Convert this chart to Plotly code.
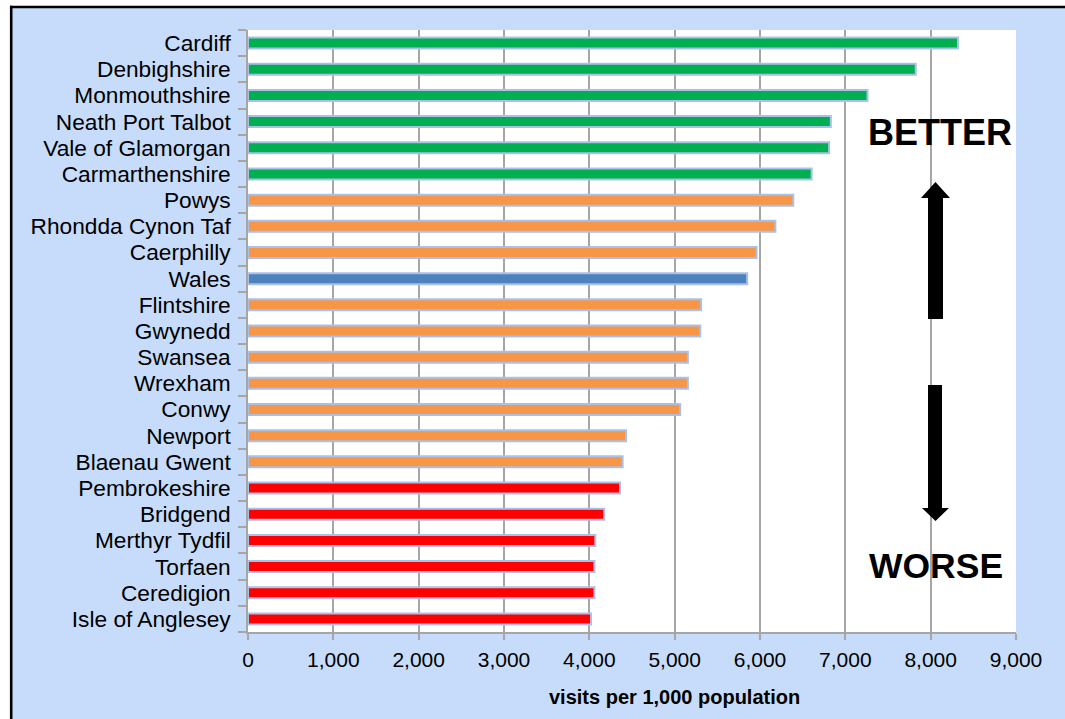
import plotly.graph_objects as go

# ---- data ----
categories = [
    "Cardiff", "Denbighshire", "Monmouthshire", "Neath Port Talbot",
    "Vale of Glamorgan", "Carmarthenshire", "Powys", "Rhondda Cynon Taf",
    "Caerphilly", "Wales", "Flintshire", "Gwynedd", "Swansea", "Wrexham",
    "Conwy", "Newport", "Blaenau Gwent", "Pembrokeshire", "Bridgend",
    "Merthyr Tydfil", "Torfaen", "Ceredigion", "Isle of Anglesey",
]
visits = [
    8320, 7825, 7260, 6830, 6810, 6605, 6390, 6180, 5960, 5850,
    5310, 5300, 5155, 5155, 5065, 4430, 4390, 4360, 4175, 4070,
    4060, 4060, 4020,
]
groups = [
    "better", "better", "better", "better", "better", "better",
    "similar", "similar", "similar", "wales", "similar", "similar",
    "similar", "similar", "similar", "similar", "similar",
    "worse", "worse", "worse", "worse", "worse", "worse",
]
x_ticks = [0, 1000, 2000, 3000, 4000, 5000, 6000, 7000, 8000, 9000]

group_colors = {
    "better": "#00B050",
    "similar": "#F79646",
    "wales": "#4F81BD",
    "worse": "#FF0000",
}

# ---- layout geometry (pixels) ----
W, H = 1065, 719
L, R, T, B = 248, 1016, 30, 632
PW, PH = R - L, B - T


def px(x):
    return (x - L) / PW


def py(y):
    return (B - y) / PH


FONT = "Liberation Sans, Arial, sans-serif"
BG = "#C6DCFA"
GRID = "#A6A6A6"

fig = go.Figure()
fig.add_trace(go.Bar(
    x=visits,
    y=categories,
    orientation="h",
    marker=dict(
        color=[group_colors[g] for g in groups],
        line=dict(color="#A9C1E8", width=2),
    ),
    width=0.42,
    hoverinfo="x+y",
))

fig.update_layout(
    width=W, height=H,
    margin=dict(l=L, r=W - R, t=T, b=H - B, pad=0),
    paper_bgcolor=BG,
    plot_bgcolor="white",
    showlegend=False,
    bargap=0.5,
    font=dict(family=FONT, color="black"),
)

fig.update_xaxes(
    range=[0, 9000],
    tickvals=x_ticks,
    ticktext=[f"{v:,}" for v in x_ticks],
    tickfont=dict(size=21, family=FONT, color="black"),
    showgrid=True, gridcolor=GRID, gridwidth=1.5,
    showline=True, linecolor=GRID, linewidth=1.5,
    ticks="outside", ticklen=6, tickcolor=GRID, tickwidth=1.5,
    ticklabelstandoff=2,
    zeroline=False,
    fixedrange=True,
)
fig.update_yaxes(
    categoryorder="array", categoryarray=categories,
    autorange="reversed",
    tickmode="array", tickvals=categories, ticktext=categories,
    tickfont=dict(size=22.7, family=FONT, color="black"),
    showgrid=False,
    showline=True, linecolor=GRID, linewidth=1.5,
    ticks="outside", ticklen=8, tickcolor=GRID, tickwidth=1.5,
    tickson="boundaries",
    ticklabelstandoff=11,
    fixedrange=True,
)

shapes = []
# arrows (pixel geometry -> paper coordinates)
up = [(935.5, 182), (950, 198), (943, 198), (943, 319), (928, 319),
      (928, 198), (921, 198)]
down = [(928, 385), (942, 385), (942, 508), (949, 508), (935.5, 521),
        (922, 508), (928, 508)]
for poly in (up, down):
    path = "M " + " L ".join(f"{px(a):.5f},{py(b):.5f}" for a, b in poly) + " Z"
    shapes.append(dict(type="path", xref="paper", yref="paper", path=path,
                       fillcolor="black", line=dict(width=0), layer="above"))

# white margins outside the framed chart + black frame
shapes.append(dict(type="rect", xref="paper", yref="paper",
                   x0=px(-5), x1=px(10), y0=py(H + 5), y1=py(-5),
                   fillcolor="white", line=dict(width=0), layer="above"))
shapes.append(dict(type="rect", xref="paper", yref="paper",
                   x0=px(-5), x1=px(W + 5), y0=py(6), y1=py(-5),
                   fillcolor="white", line=dict(width=0), layer="above"))
shapes.append(dict(type="line", xref="paper", yref="paper",
                   x0=px(11.2), x1=px(11.2), y0=py(5.8), y1=py(H + 5),
                   line=dict(color="black", width=2.6), layer="above"))
shapes.append(dict(type="line", xref="paper", yref="paper",
                   x0=px(10), x1=px(W + 5), y0=py(7), y1=py(7),
                   line=dict(color="black", width=2.6), layer="above"))
fig.update_layout(shapes=shapes)

annotations = [
    dict(text="<b>BETTER</b>", x=px(939.5), y=py(133), xref="paper", yref="paper",
         showarrow=False, font=dict(size=36, family=FONT, color="black"),
         xanchor="center", yanchor="middle"),
    dict(text="<b>WORSE</b>", x=px(935.5), y=py(566), xref="paper", yref="paper",
         showarrow=False, font=dict(size=35.5, family=FONT, color="black"),
         xanchor="center", yanchor="middle"),
    dict(text="<b>visits per 1,000 population</b>", x=px(674.5), y=py(697),
         xref="paper", yref="paper", showarrow=False,
         font=dict(size=20, family=FONT, color="black"),
         xanchor="center", yanchor="middle"),
]
fig.update_layout(annotations=annotations)

fig.write_html("out.html")
